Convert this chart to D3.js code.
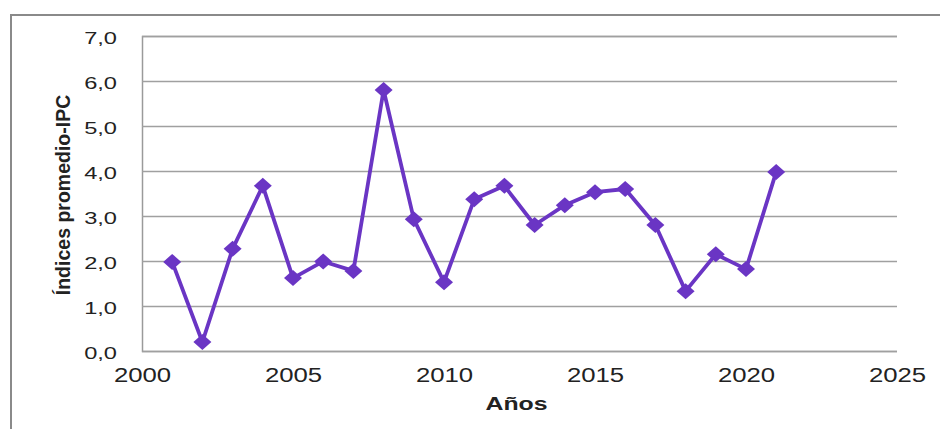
<!DOCTYPE html>
<html>
<head>
<meta charset="utf-8">
<script src="https://cdn.jsdelivr.net/npm/d3@7/dist/d3.min.js"></script>
<style>
  html, body { margin: 0; padding: 0; background: #fff; }
  svg { display: block; }
  text { font-family: "Liberation Sans", Arial, sans-serif; fill: #222; }
</style>
</head>
<body>
<svg id="chart" width="940" height="429"></svg>
<script>
// Average CPI index by year
const years = [2001, 2002, 2003, 2004, 2005, 2006, 2007, 2008, 2009, 2010, 2011,
               2012, 2013, 2014, 2015, 2016, 2017, 2018, 2019, 2020, 2021];
const ipc = [1.98, 0.20, 2.27, 3.67, 1.62, 1.99, 1.78, 5.80, 2.93, 1.53, 3.37,
             3.67, 2.80, 3.24, 3.53, 3.60, 2.80, 1.33, 2.15, 1.82, 3.98];
const xTicks = [2000, 2005, 2010, 2015, 2020, 2025];
const yTicks = [0, 1, 2, 3, 4, 5, 6, 7];
const xTitle = "Años";
const yTitle = "Índices promedio-IPC";

const svg = d3.select("#chart");
const plotLeft = 142, plotRight = 897, plotTop = 36, plotBottom = 351;
const FONT = "'Liberation Sans', Arial, sans-serif";

const x = d3.scaleLinear().domain([2000, 2025]).range([plotLeft, plotRight]);
const y = d3.scaleLinear().domain([0, 7]).range([plotBottom, plotTop]);
const fmt = v => d3.format(".1f")(v).replace(".", ",");

// outer frame (top and left edges)
svg.append("path")
  .attr("d", "M11,429 V15 H940")
  .attr("fill", "none").attr("stroke", "#8a8a8a").attr("stroke-width", 2);

// horizontal gridlines + y labels (text is set wide, stretched horizontally)
const yAxis = d3.axisLeft(y).tickValues(yTicks).tickFormat(fmt)
  .tickSize(-(plotRight - plotLeft)).tickPadding(25);
const gy = svg.append("g").attr("transform", `translate(${plotLeft},0)`).call(yAxis);
gy.select(".domain").attr("stroke", "#9a9a9a").attr("stroke-width", 1.5);
gy.selectAll(".tick line").attr("stroke", "#a0a0a0").attr("stroke-width", 1.5);
gy.selectAll(".tick text")
  .attr("x", 0).attr("dy", null)
  .attr("transform", "translate(-25,7.5) scale(1.45,1)")
  .attr("font-size", 16.3).attr("fill", "#262626")
  .style("font-family", FONT);

// x labels
const xAxis = d3.axisBottom(x).tickValues(xTicks).tickFormat(d3.format("d"))
  .tickSize(0);
const gx = svg.append("g").attr("transform", `translate(0,${plotBottom})`).call(xAxis);
gx.select(".domain").remove();
gx.selectAll(".tick text")
  .attr("y", 0).attr("dy", null)
  .attr("transform", "translate(0,31) scale(1.32,1)")
  .attr("font-size", 19.5).attr("fill", "#262626")
  .style("font-family", FONT);

// axis titles
svg.append("text")
  .attr("transform", `translate(${(plotLeft + plotRight) / 2 - 3},410) scale(1.38,1)`)
  .attr("text-anchor", "middle").attr("font-size", 18).attr("font-weight", "bold")
  .attr("fill", "#222")
  .text(xTitle);
svg.append("text")
  .attr("transform", `translate(70,195) rotate(-90)`)
  .attr("text-anchor", "middle").attr("font-size", 19.5).attr("font-weight", "bold")
  .attr("fill", "#222")
  .text(yTitle);

// series line
const purple = "#6a35c4";
const pts = years.map((yr, i) => [yr, ipc[i]]);
svg.append("path")
  .datum(pts)
  .attr("fill", "none").attr("stroke", purple).attr("stroke-width", 3.8)
  .attr("stroke-linejoin", "round")
  .attr("d", d3.line().x(d => x(d[0])).y(d => y(d[1])));

// diamond markers
svg.append("g").selectAll("path")
  .data(pts).join("path")
  .attr("transform", d => `translate(${x(d[0])},${y(d[1])})`)
  .attr("d", "M0,-8 L9,0 L0,8 L-9,0 Z")
  .attr("fill", purple);
</script>
</body>
</html>
